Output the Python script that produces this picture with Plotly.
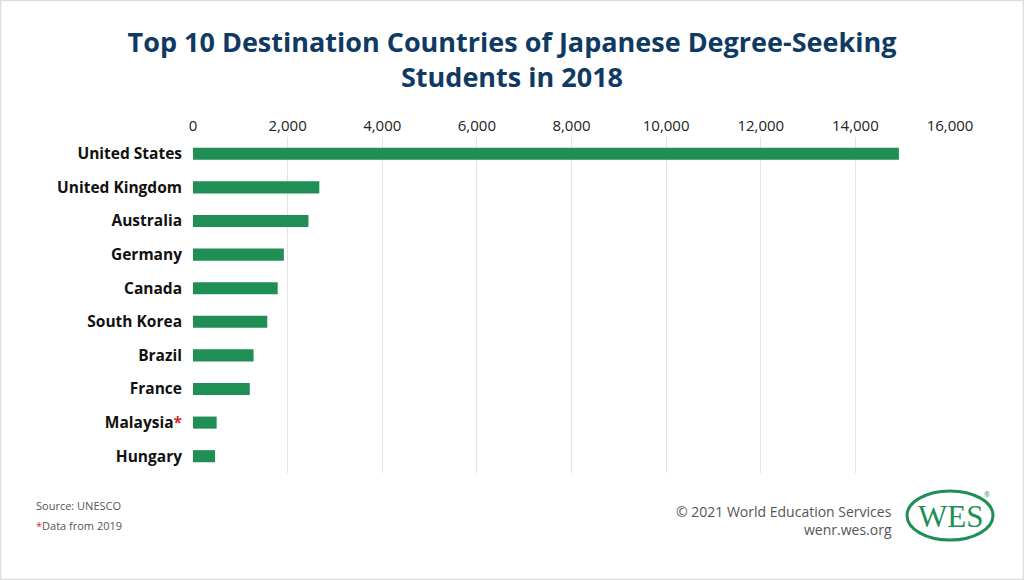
import plotly.graph_objects as go

countries = ["United States", "United Kingdom", "Australia", "Germany", "Canada",
             "South Korea", "Brazil", "France", "Malaysia", "Hungary"]
students = [14920, 2670, 2440, 1920, 1790, 1570, 1280, 1200, 500, 465]
tick_values = [0, 2000, 4000, 6000, 8000, 10000, 12000, 14000, 16000]
starred = ["Malaysia"]

labels = [c + ("<span style='color:#e0262b'>*</span>" if c in starred else "") for c in countries]

FONT = "Open Sans"
fig = go.Figure(go.Bar(
    x=students, y=countries, orientation="h",
    marker=dict(color="#1f8f55", line=dict(width=0)),
    hoverinfo="x+y",
))

fig.update_layout(
    width=1024, height=580,
    margin=dict(l=193, r=74, t=137, b=107),
    paper_bgcolor="white", plot_bgcolor="white",
    bargap=0.64,
    showlegend=False,
    font=dict(family=FONT, color="#222"),
    title=dict(
        text="<b>Top 10 Destination Countries of Japanese Degree-Seeking<br>Students in 2018</b>",
        x=0.5, xanchor="center", yref="container", y=0.91, yanchor="top",
        font=dict(family=FONT, size=27, color="#0f3a63"),
    ),
    xaxis=dict(
        side="top", range=[0, 16000], tickvals=tick_values, tickformat=",",
        showgrid=True, gridcolor="#e3e3e3", gridwidth=1,
        zeroline=False, showline=False, ticks="",
        tickfont=dict(family=FONT, size=15, color="#222"),
        ticklabelstandoff=2, fixedrange=True,
    ),
    yaxis=dict(
        autorange="reversed", tickvals=countries, ticktext=labels,
        showgrid=False, zeroline=False, showline=False, ticks="",
        tickfont=dict(family=FONT, size=15.5, color="#111", weight="bold"),
        ticklabelstandoff=10, fixedrange=True,
    ),
)

pw = 1024 - 193 - 74
ph = 580 - 137 - 107
def px(x): return (x - 193) / pw
def py(y): return (580 - 107 - y) / ph

annotations = [
    dict(text="Source: UNESCO", x=px(34), y=py(505), xanchor="left",
         font=dict(size=11, color="#555")),
    dict(text="<span style='color:#e0262b'>*</span>Data from 2019", x=px(34), y=py(525),
         xanchor="left", font=dict(size=11, color="#555")),
    dict(text="© 2021 World Education Services", x=px(894), y=py(511),
         xanchor="right", font=dict(size=14, color="#555")),
    dict(text="wenr.wes.org", x=px(894), y=py(529),
         xanchor="right", font=dict(size=14, color="#555")),
    dict(text="WES", x=px(950), y=py(516), xanchor="center",
         font=dict(family="Liberation Serif", size=31, color="#1f8f55")),
    dict(text="®", x=px(987), y=py(494), xanchor="center",
         font=dict(size=7, color="#1f8f55")),
]
for a in annotations:
    a.update(xref="paper", yref="paper", yanchor="middle", showarrow=False)
fig.update_layout(annotations=annotations)

fig.update_layout(shapes=[
    dict(type="circle", xref="paper", yref="paper",
         x0=px(907), x1=px(993), y0=py(491), y1=py(540),
         line=dict(color="#1f8f55", width=3)),
    dict(type="rect", xref="paper", yref="paper",
         x0=px(0.5), x1=px(1023.5), y0=py(0.5), y1=py(579.5),
         line=dict(color="#dddddd", width=1.5)),
])

fig.write_html("out.html")
